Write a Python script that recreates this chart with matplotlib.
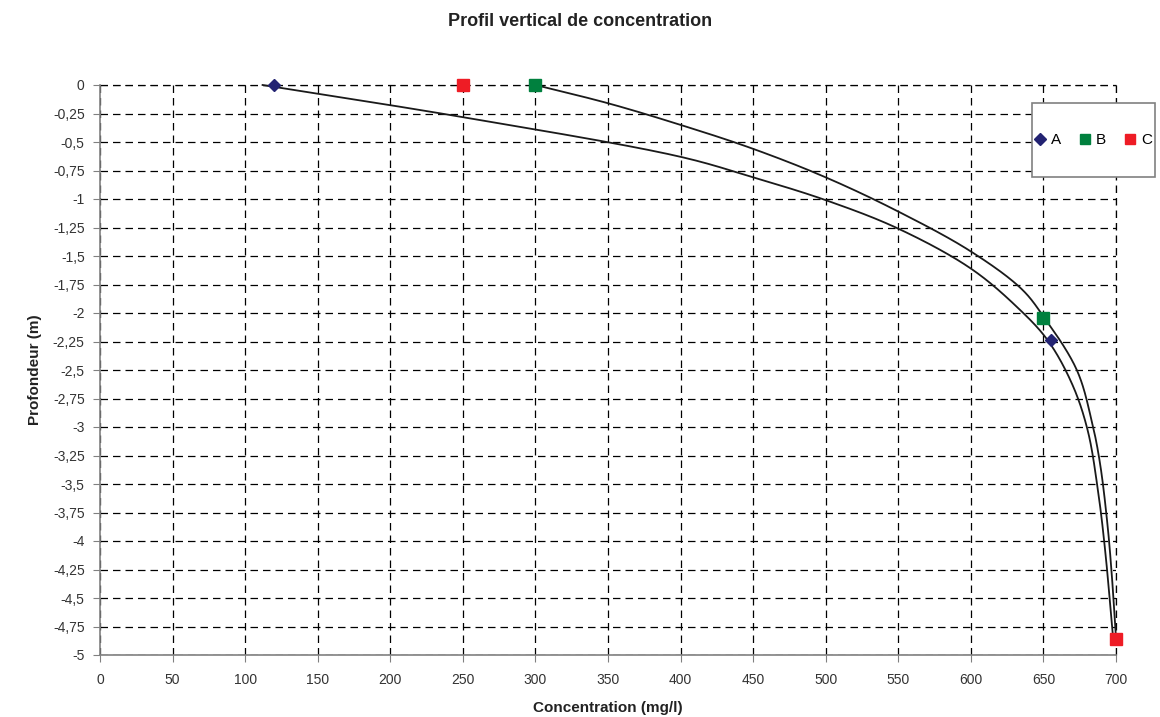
import numpy as np
import matplotlib
matplotlib.use("Agg")
import matplotlib.pyplot as plt
from matplotlib.patches import Rectangle
from matplotlib.ticker import FuncFormatter

plt.rcParams["font.family"] = ["Liberation Sans", "DejaVu Sans"]

# Measured points (concentration, depth)
series_names = ["A", "B", "C"]
a_conc = [120, 655]
a_depth = [0.0, -2.24]
b_conc = [300, 650]
b_depth = [0.0, -2.04]
c_conc = [250, 700]
c_depth = [0.0, -4.86]

# Smoothed profile curves
profile1_conc = [112, 249, 400, 450, 500, 550, 600, 632, 653, 670, 680.5, 687.5, 692.5, 698]
profile1_depth = [0.0, -0.28, -0.63, -0.81, -1.01, -1.26, -1.61, -1.95, -2.24, -2.63,
                  -3.03, -3.55, -4.08, -4.85]
profile2_conc = [300, 350, 400, 450, 500, 550, 600, 635, 650, 673, 683.5, 689, 694, 697, 700]
profile2_depth = [0.0, -0.16, -0.35, -0.56, -0.81, -1.11, -1.46, -1.79, -2.03, -2.50,
                  -2.96, -3.32, -3.84, -4.28, -4.85]

x_ticks = list(range(0, 701, 50))
y_ticks = [-0.25 * i for i in range(21)]


def smooth_curve(xs, ys, sx=1.45, sy=114.0, steps=40):
    """Centripetal Catmull-Rom curve through the points (computed in a scaled space)."""
    pts = np.column_stack([np.asarray(xs, float) * sx, np.asarray(ys, float) * sy])
    ext = np.vstack([2 * pts[0] - pts[1], pts, 2 * pts[-1] - pts[-2]])
    out = [pts[:1]]
    for i in range(1, len(ext) - 2):
        p0, p1, p2, p3 = ext[i - 1], ext[i], ext[i + 1], ext[i + 2]
        t0 = 0.0
        t1 = t0 + np.linalg.norm(p1 - p0) ** 0.5
        t2 = t1 + np.linalg.norm(p2 - p1) ** 0.5
        t3 = t2 + np.linalg.norm(p3 - p2) ** 0.5
        t = np.linspace(t1, t2, steps)[1:, None]
        a1 = (t1 - t) / (t1 - t0) * p0 + (t - t0) / (t1 - t0) * p1
        a2 = (t2 - t) / (t2 - t1) * p1 + (t - t1) / (t2 - t1) * p2
        a3 = (t3 - t) / (t3 - t2) * p2 + (t - t2) / (t3 - t2) * p3
        b1 = (t2 - t) / (t2 - t0) * a1 + (t - t0) / (t2 - t0) * a2
        b2 = (t3 - t) / (t3 - t1) * a2 + (t - t1) / (t3 - t1) * a3
        out.append((t2 - t) / (t2 - t1) * b1 + (t - t1) / (t2 - t1) * b2)
    c = np.vstack(out)
    return c[:, 0] / sx, c[:, 1] / sy


fig = plt.figure(figsize=(11.6, 7.17), dpi=100)
W, H = 1160, 717
ax = fig.add_axes([100 / W, 1 - 655 / H, (1116 - 100) / W, (655 - 85) / H])

ax.set_xlim(0, 700)
ax.set_ylim(-5, 0)
ax.set_xticks(x_ticks)
ax.set_yticks(y_ticks)
ax.xaxis.set_major_formatter(FuncFormatter(lambda v, p: f"{v:g}"))
ax.yaxis.set_major_formatter(FuncFormatter(lambda v, p: (f"{v:g}".replace(".", ",") if v != 0 else "0")))

dash = (0, (6, 4))
ax.grid(True, color="black", linestyle=dash, linewidth=0.9)
ax.set_axisbelow(True)
for s in ["top", "right"]:
    ax.spines[s].set_visible(False)
for s in ["left", "bottom"]:
    ax.spines[s].set_color("#808080")
    ax.spines[s].set_linewidth(1.2)
ax.tick_params(axis="both", direction="out", length=5, color="#808080", labelsize=10,
               labelcolor="#333333")
ax.tick_params(axis="y", pad=6)
ax.tick_params(axis="x", pad=8)

# Dashed lines along top and right edges
ax.axhline(0, color="black", linestyle=dash, linewidth=0.9, clip_on=False, zorder=1)
ax.axvline(700, color="black", linestyle=dash, linewidth=0.9, clip_on=False, zorder=1)

for xs, ys in [(profile1_conc, profile1_depth), (profile2_conc, profile2_depth)]:
    cx, cy = smooth_curve(xs, ys)
    ax.plot(cx, cy, color="#1a1a1a", linewidth=1.3, zorder=3, clip_on=False)

ha = ax.plot(a_conc, a_depth, linestyle="none", marker="D", markersize=6.5, color="#232372",
             label="A", zorder=5, clip_on=False)[0]
hb = ax.plot(b_conc, b_depth, linestyle="none", marker="s", markersize=8, color="#00803e",
             label="B", zorder=5, clip_on=False)[0]
hc = ax.plot(c_conc, c_depth, linestyle="none", marker="s", markersize=8, color="#ee1c25",
             label="C", zorder=5, clip_on=False)[0]

fig.text(0.5, 1 - 22 / H, "Profil vertical de concentration", ha="center", va="center",
         fontsize=13, fontweight="bold", color="#222222")
fig.text(35 / W, 1 - 370 / H, "Profondeur (m)", ha="center", va="center", rotation=90,
         fontsize=11, fontweight="bold", color="#222222")
fig.text(608 / W, 1 - 708 / H, "Concentration (mg/l)", ha="center", va="center",
         fontsize=11, fontweight="bold", color="#222222")

# Legend frame and entries
fig.patches.append(Rectangle((1032 / W, 1 - 177 / H), 123 / W, 74 / H, transform=fig.transFigure,
                             facecolor="white", edgecolor="#808080", linewidth=1.2, zorder=0))
fig.legend(handles=[ha, hb, hc], labels=series_names, loc="center",
           bbox_to_anchor=(1093 / W, 1 - 140 / H), ncol=3, frameon=False, fontsize=11,
           handlelength=0.8, handletextpad=0.3, columnspacing=1.2, markerscale=0.9)

fig.savefig("out.png", dpi=100)
